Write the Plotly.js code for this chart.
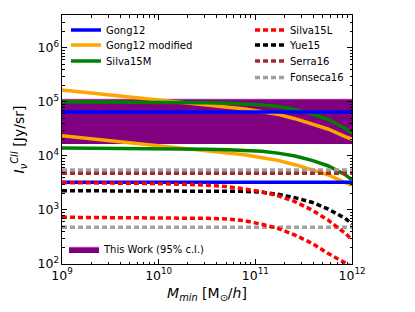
<!DOCTYPE html>
<html><head><meta charset="utf-8">
<script src="https://cdn.plot.ly/plotly-3.0.1.min.js"></script>
<style>html,body{margin:0;padding:0;background:#fff}</style>
</head><body><div id="chart" style="width:415px;height:312px"></div>
<script>
// halo mass grid [M_sun/h]
const massGrid = [1e9, 3.16e9, 1e10, 3.16e10, 5.2e10, 7.8e10, 1.17e11, 1.71e11, 2.57e11, 3.85e11, 5.62e11, 8.5e11, 1e12];
const massEnds = [1e9, 1e12];

// solid models
const gong12High = [6.5e4, 6.5e4];
const gong12Low = [3.26e3, 3.26e3];
const gong12ModHigh = [1.667e5, 1.352e5, 1.096e5, 8.91e4, 8.13e4, 7.41e4, 6.61e4, 5.89e4, 4.90e4, 3.98e4, 3.16e4, 2.29e4, 2.04e4];
const gong12ModLow = [2.36e4, 1.91e4, 1.55e4, 1.26e4, 1.15e4, 1.05e4, 9.3e3, 8.3e3, 6.9e3, 5.6e3, 4.5e3, 3.2e3, 2.9e3];
const silva15MHigh = [1.014e5, 1.009e5, 9.95e4, 9.66e4, 9.44e4, 9.16e4, 8.81e4, 8.22e4, 7.24e4, 6.03e4, 4.79e4, 3.24e4, 2.63e4];
const silva15MLow = [1.40e4, 1.39e4, 1.37e4, 1.33e4, 1.30e4, 1.26e4, 1.22e4, 1.13e4, 1.0e4, 8.3e3, 6.6e3, 4.5e3, 3.6e3];

// dashed models
const silva15LHigh = [3215, 3185, 3090, 2880, 2700, 2450, 2180, 1840, 1425, 1000, 653, 371, 282];
const silva15LLow = [733, 728, 716, 700, 681, 631, 543, 457, 344, 242, 158, 107, 89];
const yue15 = [2275, 2275, 2275, 2275, 2275, 2213, 2128, 1950, 1690, 1390, 1045, 701, 550];
const serra16 = [4800, 4800];
const fonseca16High = [5500, 5500];
const fonseca16Low = [480, 480];

// this work 95% c.l. band
const thisWorkLow = [1.67e4, 1.67e4];
const thisWorkHigh = [1.14e5, 1.14e5];

const FONT = 'DejaVu Sans, Liberation Sans, sans-serif';
const LW = 3.5;
const DASH = '5px,3px';

function line(x, y, color, name, legend, show, dash) {
  return {x: x, y: y, type: 'scatter', mode: 'lines', name: name, legend: legend,
    legendgroup: name, showlegend: show, hoverinfo: 'skip',
    line: {color: color, width: LW, dash: dash || 'solid'}};
}

const traces = [
  {x: massEnds, y: thisWorkLow, type: 'scatter', mode: 'lines', line: {width: 0, color: '#800080'},
   showlegend: false, hoverinfo: 'skip'},
  {x: massEnds, y: thisWorkHigh, type: 'scatter', mode: 'lines', fill: 'tonexty', fillcolor: '#800080',
   line: {width: 0.8, color: '#d9b3d9'}, name: 'This Work (95% c.l.)', legend: 'legend8', hoverinfo: 'skip'},
  line(massGrid, gong12ModHigh, '#ffa500', 'Gong12 modified', 'legend2', true),
  line(massGrid, gong12ModLow, '#ffa500', 'Gong12 modified', 'legend2', false),
  line(massGrid, silva15MHigh, '#008000', 'Silva15M', 'legend3', true),
  line(massGrid, silva15MLow, '#008000', 'Silva15M', 'legend3', false),
  line(massEnds, gong12High, '#0000ff', 'Gong12', 'legend', true),
  line(massEnds, gong12Low, '#0000ff', 'Gong12', 'legend', false),
  line(massEnds, fonseca16High, '#a0a0a0', 'Fonseca16', 'legend7', true, DASH),
  line(massEnds, fonseca16Low, '#a0a0a0', 'Fonseca16', 'legend7', false, DASH),
  line(massEnds, serra16, '#a52a2a', 'Serra16', 'legend6', true, DASH),
  line(massGrid, yue15, '#000000', 'Yue15', 'legend5', true, DASH),
  line(massGrid, silva15LHigh, '#ff0000', 'Silva15L', 'legend4', true, DASH),
  line(massGrid, silva15LLow, '#ff0000', 'Silva15L', 'legend4', false, DASH)
];

// plot area: x 62..352, y 15..264
function leg(xpx, ypx) {
  return {x: (xpx - 62) / 290, y: (264 - ypx) / 249, xanchor: 'left', yanchor: 'middle',
    bgcolor: 'rgba(0,0,0,0)', borderwidth: 0, itemwidth: 30,
    font: {family: FONT, size: 10, color: '#000'}};
}

const axisCommon = {
  type: 'log', dtick: 1, exponentformat: 'power', showline: true, linecolor: '#000', linewidth: 1,
  mirror: 'allticks', ticks: 'inside', ticklen: 5, tickcolor: '#000', showgrid: false, zeroline: false,
  tickfont: {family: FONT, size: 10, color: '#000'},
  minor: {ticks: 'inside', ticklen: 2.5, tickcolor: '#000', showgrid: false}
};

const layout = {
  width: 415, height: 312,
  margin: {l: 62, r: 63, t: 15, b: 48},
  paper_bgcolor: '#fff', plot_bgcolor: '#fff',
  font: {family: FONT, color: '#000'},
  xaxis: Object.assign({}, axisCommon, {range: [9, 12],
    title: {text: '<i>M</i><sub><i>min</i></sub> [M<sub>⊙</sub>/<i>h</i>]', font: {family: FONT, size: 14}, standoff: 6}}),
  yaxis: Object.assign({}, axisCommon, {range: [2, 6.61],
    title: {text: '<i>I</i><sub><i>ν</i></sub><sup><i>CII</i></sup> [Jy/sr]', font: {family: FONT, size: 14}, standoff: 9}}),
  legend: leg(66, 30), legend2: leg(66, 45), legend3: leg(66, 61),
  legend4: leg(250, 30), legend5: leg(250, 45), legend6: leg(250, 61), legend7: leg(250, 77.5),
  legend8: leg(64, 249),
  showlegend: true
};

Plotly.newPlot('chart', traces, layout, {displayModeBar: false, staticPlot: true});
</script>
</body></html>
